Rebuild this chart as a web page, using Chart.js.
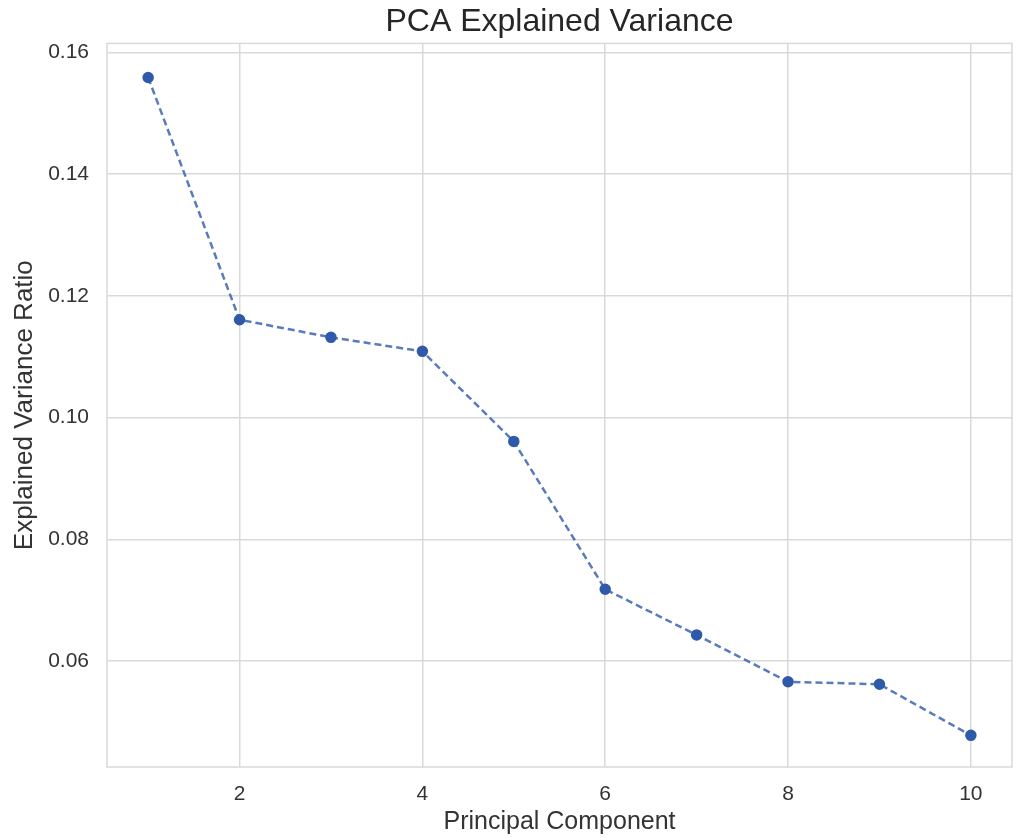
<!DOCTYPE html>
<html>
<head>
<meta charset="utf-8">
<title>PCA Explained Variance</title>
<script src="https://cdn.jsdelivr.net/npm/chart.js@4/dist/chart.umd.min.js"></script>
<style>
  html, body { margin: 0; padding: 0; background: #fff; }
  #wrap { width: 1019px; height: 838px; }
</style>
</head>
<body>
<div id="wrap"><canvas id="graph"></canvas></div>
<script>
const components = [1, 2, 3, 4, 5, 6, 7, 8, 9, 10];
const ratios = [0.1559, 0.1161, 0.1132, 0.1109, 0.0961, 0.0718, 0.0643, 0.0566, 0.0562, 0.0478];
const xTicks = [2, 4, 6, 8, 10];
const yTicks = [0.06, 0.08, 0.10, 0.12, 0.14, 0.16];

const gridColor = '#d9d9d9';
const font = "'Liberation Sans', Arial, sans-serif";

// box round the plot on all four sides, like the seaborn whitegrid frame
const frame = {
  id: 'frame',
  beforeDatasetsDraw(chart) {
    const { ctx, chartArea: a } = chart;
    ctx.save();
    ctx.strokeStyle = gridColor;
    ctx.lineWidth = 1.5;
    ctx.strokeRect(a.left, a.top, a.right - a.left, a.bottom - a.top);
    ctx.restore();
  }
};

new Chart(document.getElementById('graph'), {
  type: 'line',
  data: {
    datasets: [{
      data: components.map((c, i) => ({ x: c, y: ratios[i] })),
      borderColor: 'rgba(60,100,175,0.85)',
      borderWidth: 2.5,
      borderDash: [7, 4],
      pointBackgroundColor: '#2f5aa9',
      pointBorderColor: '#2f5aa9',
      pointRadius: 4.5,
      tension: 0
    }]
  },
  plugins: [frame],
  options: {
    responsive: true,
    maintainAspectRatio: false,
    animation: false,
    layout: { padding: { left: 0, right: 6, top: 0, bottom: 0 } },
    plugins: {
      legend: { display: false },
      tooltip: { enabled: false },
      title: {
        display: true,
        text: 'PCA Explained Variance',
        fullSize: false,
        color: '#262626',
        font: { family: font, size: 32, weight: 'normal', lineHeight: 1.2 },
        padding: { top: 3, bottom: 2 }
      }
    },
    scales: {
      x: {
        type: 'linear',
        min: 0.55,
        max: 10.45,
        afterBuildTicks: s => { s.ticks = xTicks.map(v => ({ value: v })); },
        afterFit: s => { s.height = 71; },
        grid: { color: gridColor, lineWidth: 1.5, drawTicks: false },
        border: { display: false },
        ticks: {
          color: '#333',
          padding: 15,
          maxRotation: 0,
          font: { family: font, size: 21 }
        },
        title: {
          display: true,
          text: 'Principal Component',
          color: '#333',
          font: { family: font, size: 25, lineHeight: 1.2 },
          padding: { top: 0, bottom: 1 }
        }
      },
      y: {
        min: 0.0426,
        max: 0.1615,
        afterBuildTicks: s => { s.ticks = yTicks.map(v => ({ value: v })); },
        afterFit: s => { s.width = 107; },
        grid: { color: gridColor, lineWidth: 1.5, drawTicks: false },
        border: { display: false },
        ticks: {
          color: '#333',
          padding: 18,
          font: { family: font, size: 21 },
          callback: v => v.toFixed(2)
        },
        title: {
          display: true,
          text: 'Explained Variance Ratio',
          color: '#333',
          font: { family: font, size: 26, lineHeight: 1.2 },
          padding: { top: 9, bottom: 0 }
        }
      }
    }
  }
});
</script>
</body>
</html>
